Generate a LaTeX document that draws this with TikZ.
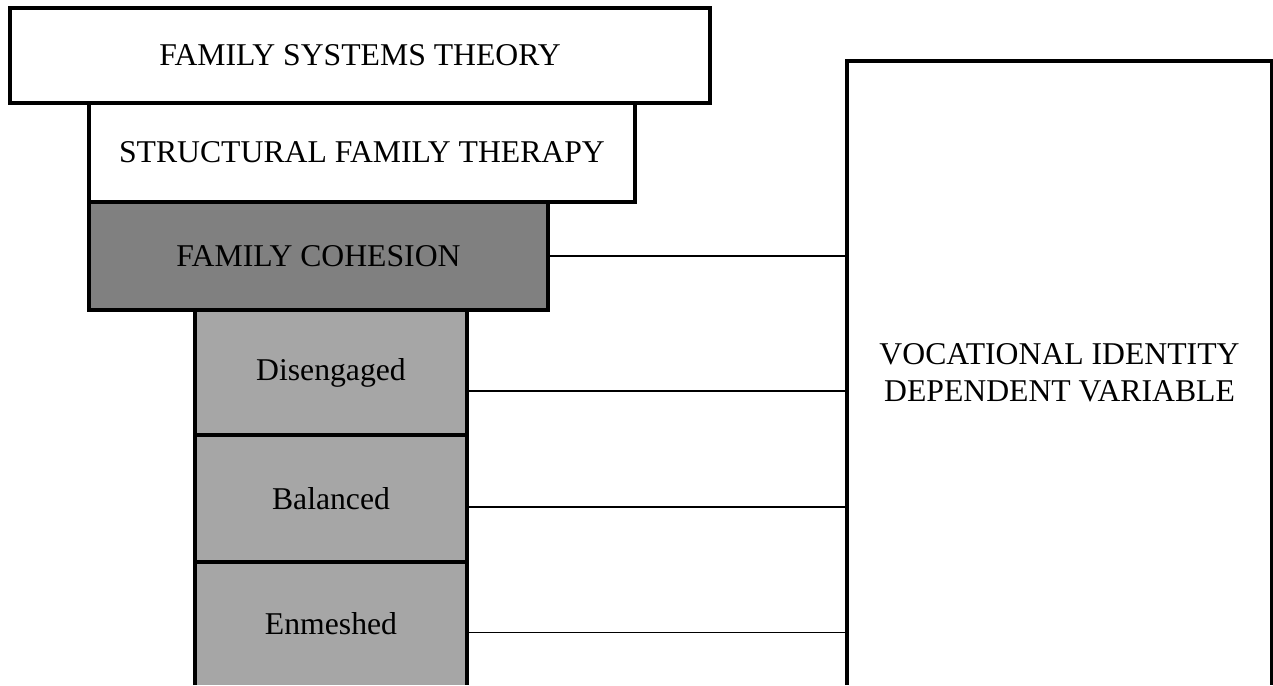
\documentclass[tikz,border=0pt]{standalone}
\usepackage{fontspec}
\setmainfont{Liberation Serif}
\definecolor{cohfill}{RGB}{128,128,128}
\definecolor{subfill}{RGB}{166,166,166}
\begin{document}
\begin{tikzpicture}[x=1pt,y=-1pt,
  every node/.style={inner sep=0pt,outer sep=0pt,font=\fontsize{31.7}{37}\selectfont,align=center},
  boxw/.style={draw=black,line width=4pt,fill=white,anchor=north west},
  boxcoh/.style={draw=black,line width=4pt,fill=cohfill,anchor=north west},
  boxsub/.style={draw=black,line width=4pt,fill=subfill,anchor=north west},
  link/.style={draw=black,line width=1.8pt}]
\useasboundingbox (0,0) rectangle (1273,685);
\clip (0,0) rectangle (1273,685);
\fill[white] (0,0) rectangle (1273,685);
% right box
\node[fill=white,anchor=north west,minimum width=425pt,minimum height=624pt] (voc) at (847,61) {VOCATIONAL IDENTITY\\DEPENDENT VARIABLE};
\draw[line width=4pt] (voc.south west) -- (voc.north west) -- (voc.north east) -- (voc.south east);
% left stack
\node[boxw,minimum width=700pt,minimum height=95pt] (fst) at (10,8) {FAMILY SYSTEMS THEORY};
\node[boxw,minimum width=546pt,minimum height=99pt] (sft) at (89,103) {STRUCTURAL FAMILY THERAPY};
\node[boxcoh,minimum width=459pt,minimum height=108pt] (coh) at (89,202) {FAMILY COHESION};
\node[boxsub,minimum width=272pt,minimum height=125pt] (dis) at (195,310) {Disengaged};
\node[boxsub,minimum width=272pt,minimum height=127pt] (bal) at (195,435) {Balanced};
\node[fill=subfill,anchor=north west,minimum width=272pt,minimum height=123pt] (enm) at (195,562) {Enmeshed};
\draw[line width=4pt] (enm.south west) -- (enm.north west) -- (enm.north east) -- (enm.south east);
% connectors
\draw[link] (coh.east) -- (coh.east -| voc.west);
\draw[link] ([yshift=-18.5pt]dis.east) -- ([yshift=-18.5pt]dis.east -| voc.west);
\draw[link] ([yshift=-8.5pt]bal.east) -- ([yshift=-8.5pt]bal.east -| voc.west);
\draw[link] ([yshift=-9pt]enm.east) -- ([yshift=-9pt]enm.east -| voc.west);
\end{tikzpicture}
\end{document}
